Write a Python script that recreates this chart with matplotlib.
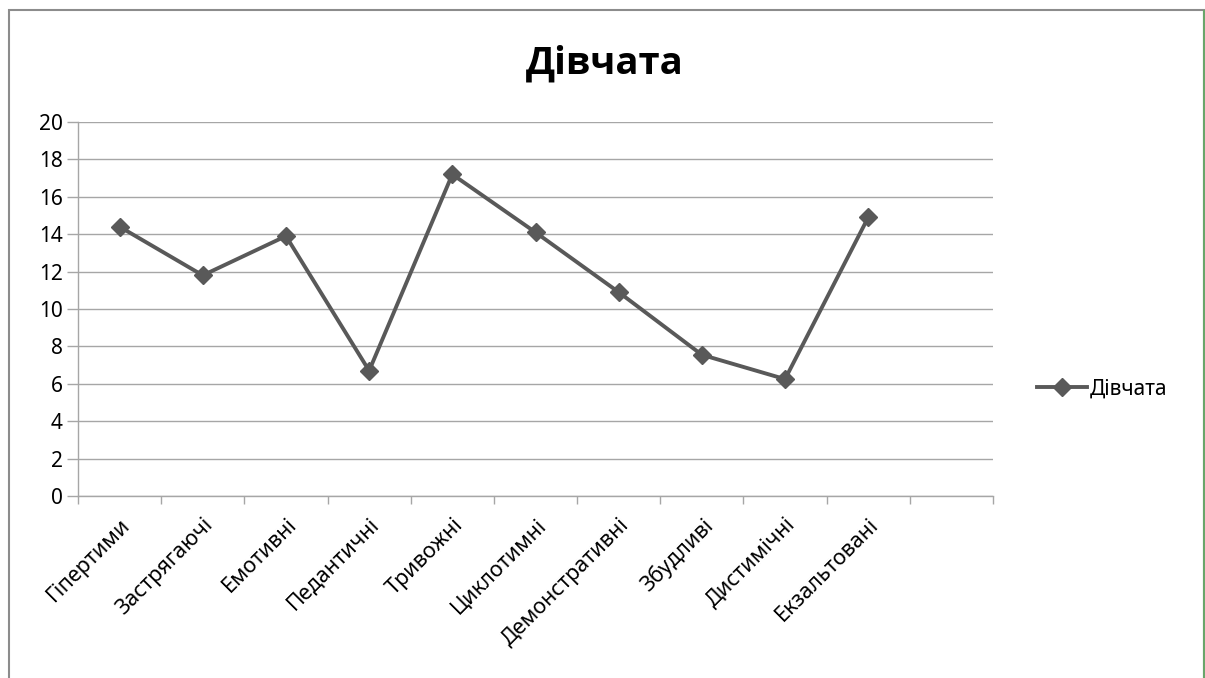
import matplotlib.pyplot as plt
from matplotlib.patches import Rectangle
from matplotlib.lines import Line2D

plt.rcParams['font.family'] = ['Noto Sans', 'DejaVu Sans']

categories = ['Гіпертими', 'Застрягаючі', 'Емотивні', 'Педантичні', 'Тривожні',
              'Циклотимні', 'Демонстративні', 'Збудливі', 'Дистимічні', 'Екзальтовані']
values = [14.4, 11.8, 13.9, 6.7, 17.2, 14.1, 10.9, 7.55, 6.25, 14.9]
series_name = 'Дівчата'
n_slots = 11  # the category axis has one extra empty slot

line_color = '#595959'
grid_color = '#a6a6a6'

W, H = 1205, 678
fig = plt.figure(figsize=(W / 100, H / 100), dpi=100)
ax = fig.add_axes([78 / W, 1 - 496 / H, (993 - 78) / W, (496 - 122) / H])

x = [i + 0.5 for i in range(len(values))]
ax.plot(x, values, color=line_color, lw=2.8, marker='D', ms=9,
        mfc=line_color, mec=line_color, label=series_name, zorder=3)

ax.set_xlim(0, n_slots)
ax.set_ylim(0, 20)
ax.set_yticks(range(0, 21, 2))
ax.yaxis.grid(True, color=grid_color, lw=1)
ax.set_axisbelow(True)

# category ticks sit between categories, labels at slot centres
ax.set_xticks(range(n_slots + 1))
ax.set_xticklabels([])
ax.set_xticks(x, minor=True)
ax.set_xticklabels(categories, minor=True, rotation=45, ha='right',
                   rotation_mode='anchor', fontsize=15.5)
ax.tick_params(axis='x', which='minor', length=0, pad=13)
ax.tick_params(axis='x', which='major', length=6, color=grid_color, width=1)
ax.tick_params(axis='y', length=8, color=grid_color, width=1, labelsize=15, pad=3)

for side in ['top', 'right']:
    ax.spines[side].set_visible(False)
for side in ['left', 'bottom']:
    ax.spines[side].set_color(grid_color)
    ax.spines[side].set_linewidth(1)

fig.text(605 / W, 1 - 64 / H, series_name, ha='center', va='center',
         fontsize=27.5, fontweight='bold', family=['Open Sans', 'DejaVu Sans'])

handle = Line2D([], [], color=line_color, lw=2.8, marker='D', ms=9,
                mfc=line_color, mec=line_color)
fig.legend([handle], [series_name], loc='center left',
           bbox_to_anchor=(1018 / W, 1 - 389 / H), frameon=False,
           fontsize=15, handlelength=2.4, handletextpad=0.15)

# chart frame
fig.patches.append(Rectangle((8.5 / W, -0.05), (1195 / W), 1 - 10.5 / H + 0.05,
                             transform=fig.transFigure, fill=False,
                             ec='#8c8c8c', lw=1.5))
fig.lines.append(Line2D([1203.5 / W] * 2, [0, 1 - 10.5 / H],
                        transform=fig.transFigure, color='#6aa56a', lw=1.5))

fig.savefig('out.png', dpi=100)
